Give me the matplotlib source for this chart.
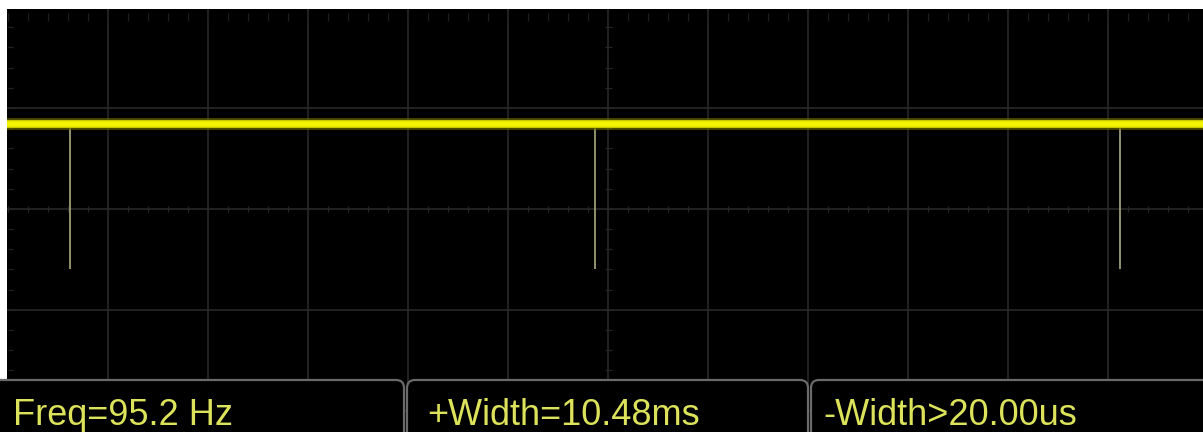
import numpy as np
import matplotlib.pyplot as plt
from matplotlib.patches import FancyBboxPatch

# time base 2 ms/div, vertical axis in divisions
t_start, t_end = -0.02, 23.9
pulse_times = [1.24, 11.74, 22.24]   # ms, narrow low-going pulses
level_high = 0.84
level_low = -0.60
readout_labels = ['Freq=95.2 Hz', '+Width=10.48ms', '-Width>20.00us']

W, H = 1203, 432
fig = plt.figure(figsize=(W / 100, H / 100), dpi=100, facecolor='white')

# scope screen
ax = fig.add_axes([7 / W, 0, (W - 7) / W, (H - 9) / H])
ax.set_facecolor('black')
ax.set_xlim(t_start, t_end)
ax.set_ylim(-2.21, 1.98)
ax.set_xticks(np.arange(2, 24, 2))
ax.set_yticks([-2, -1, 0, 1])
ax.grid(color='#2c2c2c', lw=1.1)
ax.tick_params(length=0, labelbottom=False, labelleft=False)
for s in ax.spines.values():
    s.set_visible(False)

# faint tick marks on centre lines and edges
ax.hlines(np.arange(-2.2, 2.0, 0.2), 12 - 0.07, 12 + 0.07, color='#272727', lw=0.9)
ax.hlines(np.arange(-2.2, 2.0, 0.2), 0.0, 0.1, color='#232323', lw=0.9)
ax.vlines(np.arange(0, 24, 0.4), -0.03, 0.03, color='#272727', lw=0.9)
ax.vlines(np.arange(0, 24, 0.4), 1.86, 1.94, color='#1e1e1e', lw=0.9)

# pulses and trace
ax.vlines(pulse_times, level_low, level_high, color='#b8b888', lw=1.1)
ax.plot([t_start, t_end], [level_high, level_high], color='#6a6a00', lw=8.5, alpha=0.7,
        solid_capstyle='butt')
ax.plot([t_start, t_end], [level_high, level_high], color='#e4e400', lw=5.5,
        solid_capstyle='butt')
ax.plot([t_start, t_end], [level_high, level_high], color='#f4f400', lw=3.2,
        solid_capstyle='butt')

# measurement readout panel (pixel coordinates)
ov = fig.add_axes([0, 0, 1, 1])
ov.set_xlim(0, W)
ov.set_ylim(H, 0)
ov.axis('off')
ov.patch.set_alpha(0)

box_edges = [(-10, 404), (407, 808), (811, W + 12)]
text_x = [13, 427, 823]
for (x0, x1), tx, lab in zip(box_edges, text_x, readout_labels):
    ov.add_patch(FancyBboxPatch((x0, 380), x1 - x0, 80,
                                boxstyle='round,pad=0,rounding_size=8',
                                facecolor='black', edgecolor='#6a6a6a', lw=1.6))
    ov.text(tx, 425, lab, color='#dce35a', fontsize=26, va='baseline', ha='left',
            family=['Liberation Sans', 'DejaVu Sans'])

fig.savefig('out.png', dpi=100, facecolor='white')
